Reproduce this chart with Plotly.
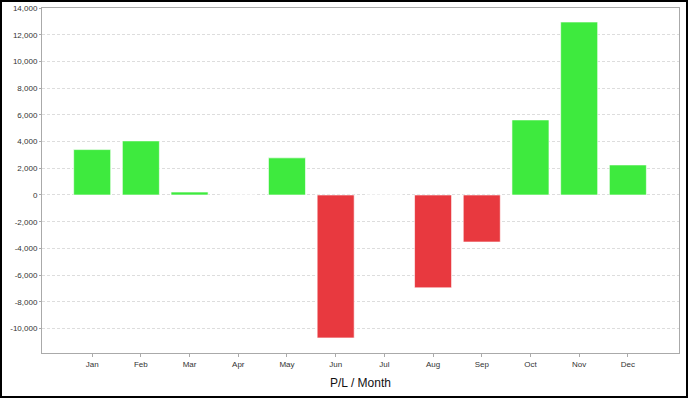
import plotly.graph_objects as go

months = ["Jan", "Feb", "Mar", "Apr", "May", "Jun", "Jul", "Aug", "Sep", "Oct", "Nov", "Dec"]
pl = [3400, 4050, 220, 0, 2780, -10700, 0, -6950, -3520, 5620, 12950, 2250]
tick_vals = list(range(-10000, 14001, 2000))
tick_text = [f"{v:,}" for v in tick_vals]

green = "#3EEA3E"
red = "#E8393F"
colors = [green if v >= 0 else red for v in pl]

fig = go.Figure(go.Bar(
    x=months, y=pl,
    marker=dict(color=colors, line=dict(color="rgba(255,255,255,0.6)", width=1)),
    width=0.76,
))

fig.update_layout(
    width=688, height=398,
    margin=dict(l=42, r=9, t=8, b=45, autoexpand=False),
    paper_bgcolor="white", plot_bgcolor="white",
    showlegend=False,
    font=dict(family="Liberation Sans, Arial, sans-serif", color="#333"),
    xaxis=dict(
        type="category", range=[-1.03, 12.05], automargin=False,
        showline=True, linecolor="#aaaaaa", linewidth=1, mirror=True,
        ticks="outside", ticklen=3, tickcolor="#aaaaaa",
        showgrid=False, tickfont=dict(size=8, color="#333"),
    ),
    yaxis=dict(
        range=[-11830, 14000], automargin=False,
        tickvals=tick_vals, ticktext=tick_text,
        showline=True, linecolor="#aaaaaa", linewidth=1, mirror=True,
        ticks="outside", ticklen=2, tickcolor="#aaaaaa",
        showgrid=True, gridcolor="#dddddd", griddash="3px,2px", gridwidth=1,
        zeroline=False, tickfont=dict(size=8, color="#333"),
    ),
    annotations=[dict(
        text="P/L / Month", xref="paper", yref="paper",
        x=(361 - 42) / 637, y=(353 - 383) / 345,
        xanchor="center", yanchor="middle", showarrow=False,
        font=dict(size=12, color="#111"),
    )],
    shapes=[dict(
        type="rect", xref="paper", yref="paper",
        x0=(1 - 42) / 637, x1=(687 - 42) / 637,
        y0=(353 - 397) / 345, y1=(353 - 1) / 345,
        line=dict(color="black", width=2), fillcolor="rgba(0,0,0,0)", layer="above",
    )],
)

fig.write_html("out.html")
